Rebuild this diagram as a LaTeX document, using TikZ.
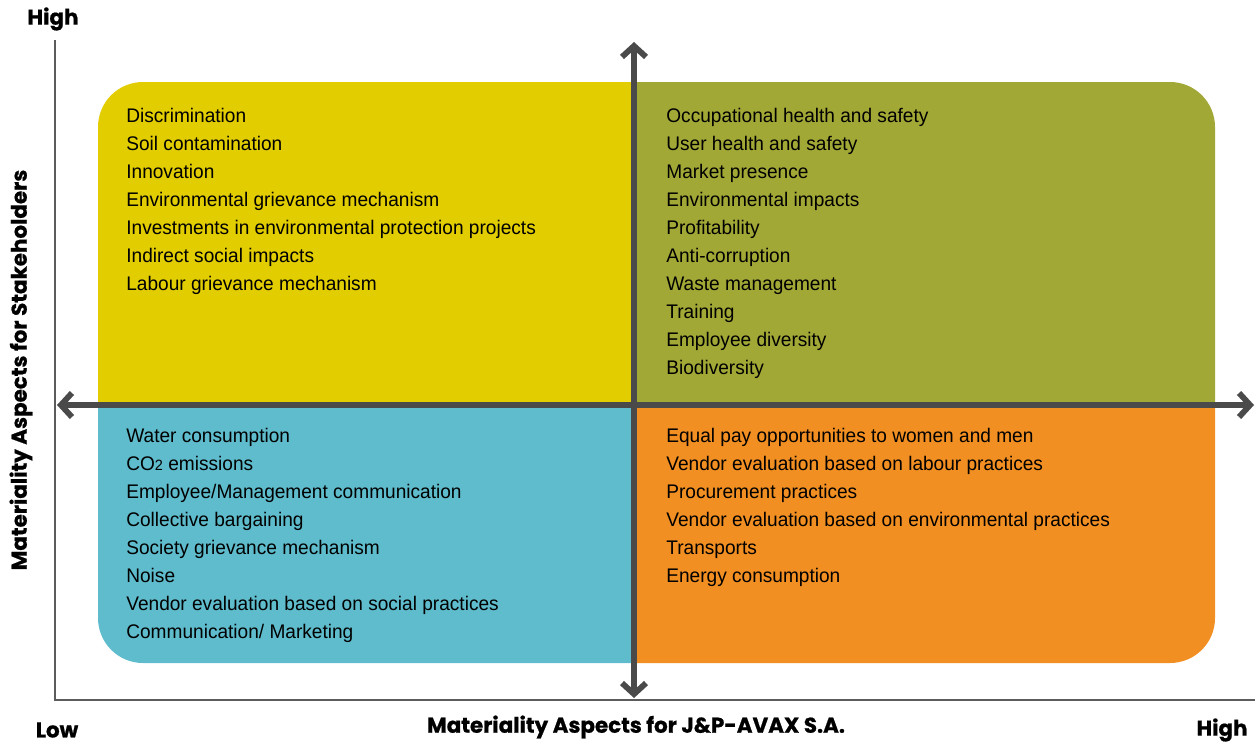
\documentclass[tikz,border=0pt]{standalone}
\usepackage{fontspec}
\usetikzlibrary{arrows.meta}
\newfontfamily\listfont{Liberation Sans}[FakeStretch=0.97]
\newfontfamily\headfont{Poppins}[BoldFeatures={FakeBold=0.8}]

\definecolor{quadYellow}{HTML}{E2CD00}
\definecolor{quadOlive}{HTML}{A2A836}
\definecolor{quadBlue}{HTML}{5FBCCC}
\definecolor{quadOrange}{HTML}{F28F22}
\definecolor{axisGray}{HTML}{4A4A4A}

\tikzset{
  itemlist/.style={anchor=north west, align=left, inner sep=0pt,
    font=\listfont\fontsize{11.2}{15.9}\selectfont},
  headlbl/.style={inner sep=0pt, font=\headfont\bfseries\fontsize{12.2}{14}\selectfont},
  outeraxis/.style={draw=axisGray!90, line width=1.6pt},
  midaxis/.style={draw=axisGray, line width=3.3pt,
    arrows={Straight Barb[length=0.22cm,width=0.48cm]-Straight Barb[length=0.22cm,width=0.48cm]}}
}

\begin{document}
\begin{tikzpicture}[x=0.02cm, y=-0.02cm]
  \useasboundingbox (0,0) rectangle (1260,744);

  % quadrant fills, clipped to one rounded box
  \begin{scope}
    \clip[rounded corners=0.9cm] (98,82) rectangle (1215,663);
    \fill[quadYellow] (90,70) rectangle (634,405);
    \fill[quadOlive]  (634,70) rectangle (1225,405);
    \fill[quadBlue]   (90,405) rectangle (634,675);
    \fill[quadOrange] (634,405) rectangle (1225,675);
  \end{scope}

  % outer axes
  \coordinate (ytop) at (55,40);
  \coordinate (origin) at (55,700);
  \coordinate (xend) at (1255,700);
  \draw[outeraxis] (ytop) -- (origin) -- (xend);

  % centre cross
  \coordinate (vtop) at (634,42);
  \coordinate (vbot) at (634,698);
  \coordinate (hleft) at (57,405);
  \coordinate (hright) at (1254,405);
  \draw[midaxis] (vbot) -- (vtop);
  \draw[midaxis] (hleft) -- (hright);

  % axis labels
  \node[headlbl] (yhigh) at (53,19) {High};
  \node[headlbl] (xlow) at (57,730) {Low};
  \node[headlbl] (xhigh) at (1222,730) {High};
  \node[headlbl] (xtitle) at (636,727) {Materiality Aspects for J\&P-AVAX S.A.};
  \node[headlbl, rotate=90] (ytitle) at (21,370) {Materiality Aspects for Stakeholders};

  % high / low
  \node[itemlist] (topleft) at (126,108) {Discrimination\\
    Soil contamination\\
    Innovation\\
    Environmental grievance mechanism\\
    Investments in environmental protection projects\\
    Indirect social impacts\\
    Labour grievance mechanism};

  % high / high
  \node[itemlist] (topright) at (666,108) {Occupational health and safety\\
    User health and safety\\
    Market presence\\
    Environmental impacts\\
    Profitability\\
    Anti-corruption\\
    Waste management\\
    Training\\
    Employee diversity\\
    Biodiversity};

  % low / low
  \node[itemlist] (botleft) at (126,428) {Water consumption\\
    CO{\fontsize{8.5}{10}\selectfont 2} emissions\\
    Employee/Management communication\\
    Collective bargaining\\
    Society grievance mechanism\\
    Noise\\
    Vendor evaluation based on social practices\\
    Communication/ Marketing};

  % low / high
  \node[itemlist] (botright) at (666,428) {Equal pay opportunities to women and men\\
    Vendor evaluation based on labour practices\\
    Procurement practices\\
    Vendor evaluation based on environmental practices\\
    Transports\\
    Energy consumption};
\end{tikzpicture}
\end{document}
